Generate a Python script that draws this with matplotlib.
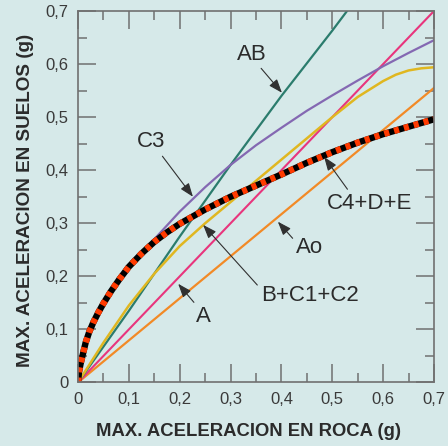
import numpy as np
import matplotlib.pyplot as plt
from matplotlib.ticker import MultipleLocator

plt.rcParams['font.family'] = ['Liberation Sans', 'DejaVu Sans']

# Curvas: aceleracion en roca (x) vs aceleracion en suelo (y)
ab_x = [0, 0.1, 0.2, 0.3, 0.4, 0.5, 0.529]
ab_y = [0, 0.135, 0.275, 0.41, 0.54, 0.663, 0.7]

c3_x = [0, 0.005, 0.01, 0.015, 0.022, 0.03, 0.04, 0.05, 0.065, 0.081, 0.1, 0.125, 0.15, 0.175, 0.2,
        0.25, 0.3, 0.35, 0.4, 0.45, 0.5, 0.55, 0.6, 0.65, 0.7]
c3_y = [0, 0.035, 0.055, 0.074, 0.094, 0.111, 0.13, 0.147, 0.17, 0.192, 0.217, 0.244, 0.27, 0.296, 0.322,
        0.368, 0.41, 0.447, 0.48, 0.512, 0.541, 0.569, 0.596, 0.621, 0.645]

bc_x = [0, 0.05, 0.1, 0.15, 0.2, 0.25, 0.3, 0.35, 0.4, 0.45, 0.5, 0.55, 0.6, 0.625, 0.65, 0.675, 0.7]
bc_y = [0, 0.075, 0.145, 0.205, 0.257, 0.3, 0.34, 0.38, 0.42, 0.46, 0.5, 0.538, 0.568, 0.58, 0.588, 0.592, 0.594]

a_x = [0, 0.7]
a_y = [0, 0.7]

ao_x = [0, 0.7]
ao_y = [0, 0.555]

cde_x = [0, 0.002, 0.005, 0.01, 0.015, 0.022, 0.03, 0.04, 0.05, 0.065, 0.081, 0.1, 0.125, 0.15, 0.175,
         0.2, 0.25, 0.3, 0.35, 0.4, 0.45, 0.5, 0.55, 0.6, 0.65, 0.7]
cde_y = [0, 0.02, 0.035, 0.055, 0.075, 0.095, 0.113, 0.132, 0.149, 0.172, 0.194, 0.218, 0.243, 0.265, 0.283,
         0.299, 0.326, 0.35, 0.371, 0.392, 0.414, 0.434, 0.452, 0.468, 0.482, 0.496]

tick_vals = [0, 0.1, 0.2, 0.3, 0.4, 0.5, 0.6, 0.7]
tick_labels = ['0', '0,1', '0,2', '0,3', '0,4', '0,5', '0,6', '0,7']

bg = '#d6e9e9'
grey = '#707070'
txt = '#2b2b2b'

fig = plt.figure(figsize=(4.48, 4.46), dpi=100, facecolor=bg)
ax = fig.add_axes([0.1741, 0.1424, 0.7946, 0.8329], facecolor=bg)

ax.plot(ao_x, ao_y, color='#f28a26', lw=1.6)
ax.plot(a_x, a_y, color='#e8357d', lw=1.5)
ax.plot(ab_x, ab_y, color='#2b7c6d', lw=1.6)
ax.plot(bc_x, bc_y, color='#e0b720', lw=1.8)
ax.plot(c3_x, c3_y, color='#8468b2', lw=1.6)
ax.plot(cde_x, cde_y, color='black', lw=4.6, solid_capstyle='butt', solid_joinstyle='round')
ax.plot(cde_x, cde_y, color='#ff3a00', lw=4.6, linestyle=(0, (0.8, 0.8)),
        dash_capstyle='butt')

ax.set_xlim(0, 0.7)
ax.set_ylim(0, 0.7)
ax.set_xticks(tick_vals)
ax.set_xticklabels(tick_labels)
ax.set_yticks(tick_vals)
ax.set_yticklabels(tick_labels)
ax.xaxis.set_minor_locator(MultipleLocator(0.05))
ax.yaxis.set_minor_locator(MultipleLocator(0.05))
ax.tick_params(which='both', direction='in', top=True, right=True,
               color=grey, width=1.1, labelsize=12, labelcolor='#3a3a3a', pad=7)
ax.tick_params(which='major', length=13)
ax.tick_params(which='minor', length=6.5)
for s in ax.spines.values():
    s.set_color(grey)
    s.set_linewidth(1.2)

# etiquetas con flecha
notas = [
    ('AB', (0.401, 0.546), (0.342, 0.619), (0.7, 0)),
    ('C3', (0.226, 0.350), (0.1435, 0.4535), (0.8, 0)),
    ('C4+D+E', (0.484, 0.425), (0.574, 0.337), (0.27, 1)),
    ('Ao', (0.393, 0.303), (0.456, 0.254), (0, 0.75)),
    ('B+C1+C2', (0.246, 0.297), (0.456, 0.164), (0, 0.8)),
    ('A', (0.197, 0.186), (0.246, 0.124), (0.1, 1)),
]
for nombre, punta, pos, rp in notas:
    ax.annotate(nombre, xy=punta, xytext=pos, ha='center', va='center',
                fontsize=16, color=txt,
                arrowprops=dict(arrowstyle='-|>,head_length=0.75,head_width=0.28',
                                color='#303030', lw=0.8, mutation_scale=11,
                                relpos=rp, shrinkA=1, shrinkB=0))

fam = ['Liberation Sans Narrow', 'Liberation Sans']
xl = fig.text(248 / 448, 1 - 431 / 446, 'MAX. ACELERACION EN ROCA (g)',
              ha='center', va='center', fontsize=14, fontweight='bold',
              family=fam, color=txt)
yl = fig.text(25.5 / 448, 1 - 200 / 446, 'MAX. ACELERACION EN SUELOS (g)',
              ha='center', va='center', rotation=90, fontsize=14,
              fontweight='bold', family=fam, color=txt)

fig.canvas.draw()
r = fig.canvas.get_renderer()
xl.set_fontsize(14 * 306 / xl.get_window_extent(r).width)
yl.set_fontsize(14 * 335 / yl.get_window_extent(r).height)

fig.savefig('out.png', dpi=100, facecolor=bg)
